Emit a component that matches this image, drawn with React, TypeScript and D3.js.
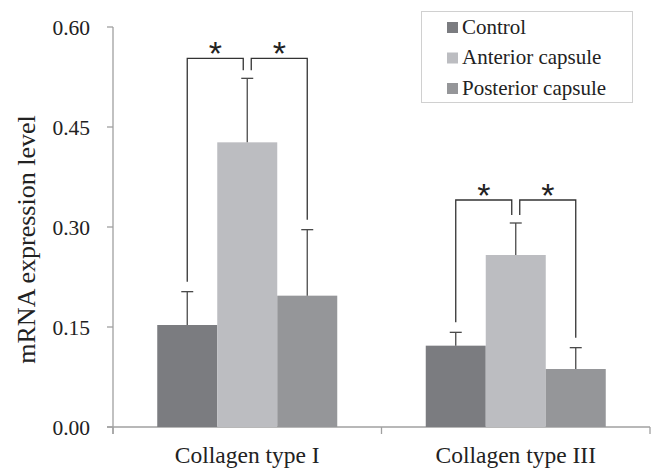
import React from "react";
import * as d3 from "d3";

const categories = ["Collagen type I", "Collagen type III"];
const seriesNames = ["Control", "Anterior capsule", "Posterior capsule"];
const seriesColors = ["#7b7c80", "#bcbdc1", "#959699"];
const meansControl = [0.153, 0.122];
const meansAnterior = [0.427, 0.258];
const meansPosterior = [0.197, 0.087];
const errControl = [0.05, 0.02];
const errAnterior = [0.096, 0.048];
const errPosterior = [0.099, 0.032];
const bracketLevels = [0.553, 0.3405];
const yTicks = [0, 0.15, 0.3, 0.45, 0.6];

const W = 658;
const H = 469;
const left = 113;
const right = 650;
const top = 27;
const bottom = 427;

export default function App() {
  const means = [meansControl, meansAnterior, meansPosterior];
  const errs = [errControl, errAnterior, errPosterior];
  const y = d3.scaleLinear().domain([0, 0.6]).range([bottom, top]);
  const x0 = d3.scaleBand().domain(categories).range([left, right]).paddingInner(0).paddingOuter(0);
  const bw = 60;
  const x1 = d3.scaleBand().domain(seriesNames).range([0, bw * 3]);
  const groupStart = (c: string) => (x0(c) as number) + (x0.bandwidth() - bw * 3) / 2;
  const barX = (c: string, s: string) => groupStart(c) + (x1(s) as number);
  const barC = (c: string, s: string) => barX(c, s) + bw / 2;
  const serif = "'Liberation Serif', 'Times New Roman', serif";
  const astFs = 34;

  return (
    <svg width={W} height={H} style={{ position: "absolute", left: 0, top: 0, background: "#fff" }}>
      {/* y axis */}
      <line x1={left} x2={left} y1={top} y2={bottom + 7} stroke="#a0a0a0" strokeWidth={1.3} />
      {yTicks.map((t) => (
        <g key={t}>
          <line x1={left - 6} x2={left} y1={y(t)} y2={y(t)} stroke="#a0a0a0" strokeWidth={1.3} />
          <text x={90} y={y(t) + 7.5} textAnchor="end" fontFamily={serif} fontSize={21.5} fill="#222">
            {d3.format(".2f")(t)}
          </text>
        </g>
      ))}
      <text
        transform={`translate(35,${239.5}) rotate(-90)`}
        textAnchor="middle"
        fontFamily={serif}
        fontSize={26}
        fill="#222"
      >
        mRNA expression level
      </text>
      {/* x axis */}
      <line x1={left - 6} x2={right} y1={bottom} y2={bottom} stroke="#a0a0a0" strokeWidth={1.3} />
      {[...categories.map((c) => x0(c) as number), right].map((v, i) => (
        <line key={i} x1={v} x2={v} y1={bottom} y2={bottom + 7} stroke="#a0a0a0" strokeWidth={1.3} />
      ))}
      {categories.map((c) => (
        <text key={c} x={(x0(c) as number) + x0.bandwidth() / 2} y={463} textAnchor="middle" fontFamily={serif} fontSize={23.5} fill="#222">
          {c}
        </text>
      ))}
      {/* bars */}
      {categories.map((c, ci) =>
        seriesNames.map((s, si) => {
          const v = means[si][ci];
          const e = errs[si][ci];
          const cx = barC(c, s);
          return (
            <g key={c + s}>
              <rect x={barX(c, s)} y={y(v)} width={bw} height={bottom - y(v)} fill={seriesColors[si]} />
              <line x1={cx} x2={cx} y1={y(v)} y2={y(v + e)} stroke="#4a4a4a" strokeWidth={1.3} />
              <line x1={cx - 6} x2={cx + 6} y1={y(v + e)} y2={y(v + e)} stroke="#4a4a4a" strokeWidth={1.3} />
            </g>
          );
        })
      )}
      {/* significance brackets */}
      {categories.map((c, ci) => {
        const by = y(bracketLevels[ci]);
        const cC = barC(c, seriesNames[0]);
        const cA = barC(c, seriesNames[1]);
        const cP = barC(c, seriesNames[2]);
        const topC = y(meansControl[ci] + errControl[ci]) - 10;
        const topA = y(meansAnterior[ci] + errAnterior[ci]) - 8;
        const topP = y(meansPosterior[ci] + errPosterior[ci]) - 10;
        const lx = cA - 4;
        const rx = cA + 4;
        const st = { stroke: "#333", strokeWidth: 1.3, fill: "none" };
        const ay = by - 13 + 0.58 * astFs;
        return (
          <g key={"b" + c}>
            <path d={`M${cC},${topC}V${by}H${lx}V${topA}`} {...st} />
            <path d={`M${rx},${topA}V${by}H${cP}V${topP}`} {...st} />
            <text x={(cC + lx) / 2} y={ay} textAnchor="middle" fontFamily="'Liberation Sans', Arial, sans-serif" fontSize={astFs} fill="#222">
              *
            </text>
            <text x={(rx + cP) / 2} y={ay} textAnchor="middle" fontFamily="'Liberation Sans', Arial, sans-serif" fontSize={astFs} fill="#222">
              *
            </text>
          </g>
        );
      })}
      {/* legend */}
      <rect x={421.5} y={11.5} width={211} height={91} fill="#fff" stroke="#d0d0d0" strokeWidth={1} />
      {seriesNames.map((s, i) => (
        <g key={s}>
          <rect x={447} y={22 + i * 30.5} width={11} height={11} fill={seriesColors[i]} />
          <text x={462} y={33.5 + i * 30.5} fontFamily={serif} fontSize={21} fill="#222">
            {s}
          </text>
        </g>
      ))}
    </svg>
  );
}
